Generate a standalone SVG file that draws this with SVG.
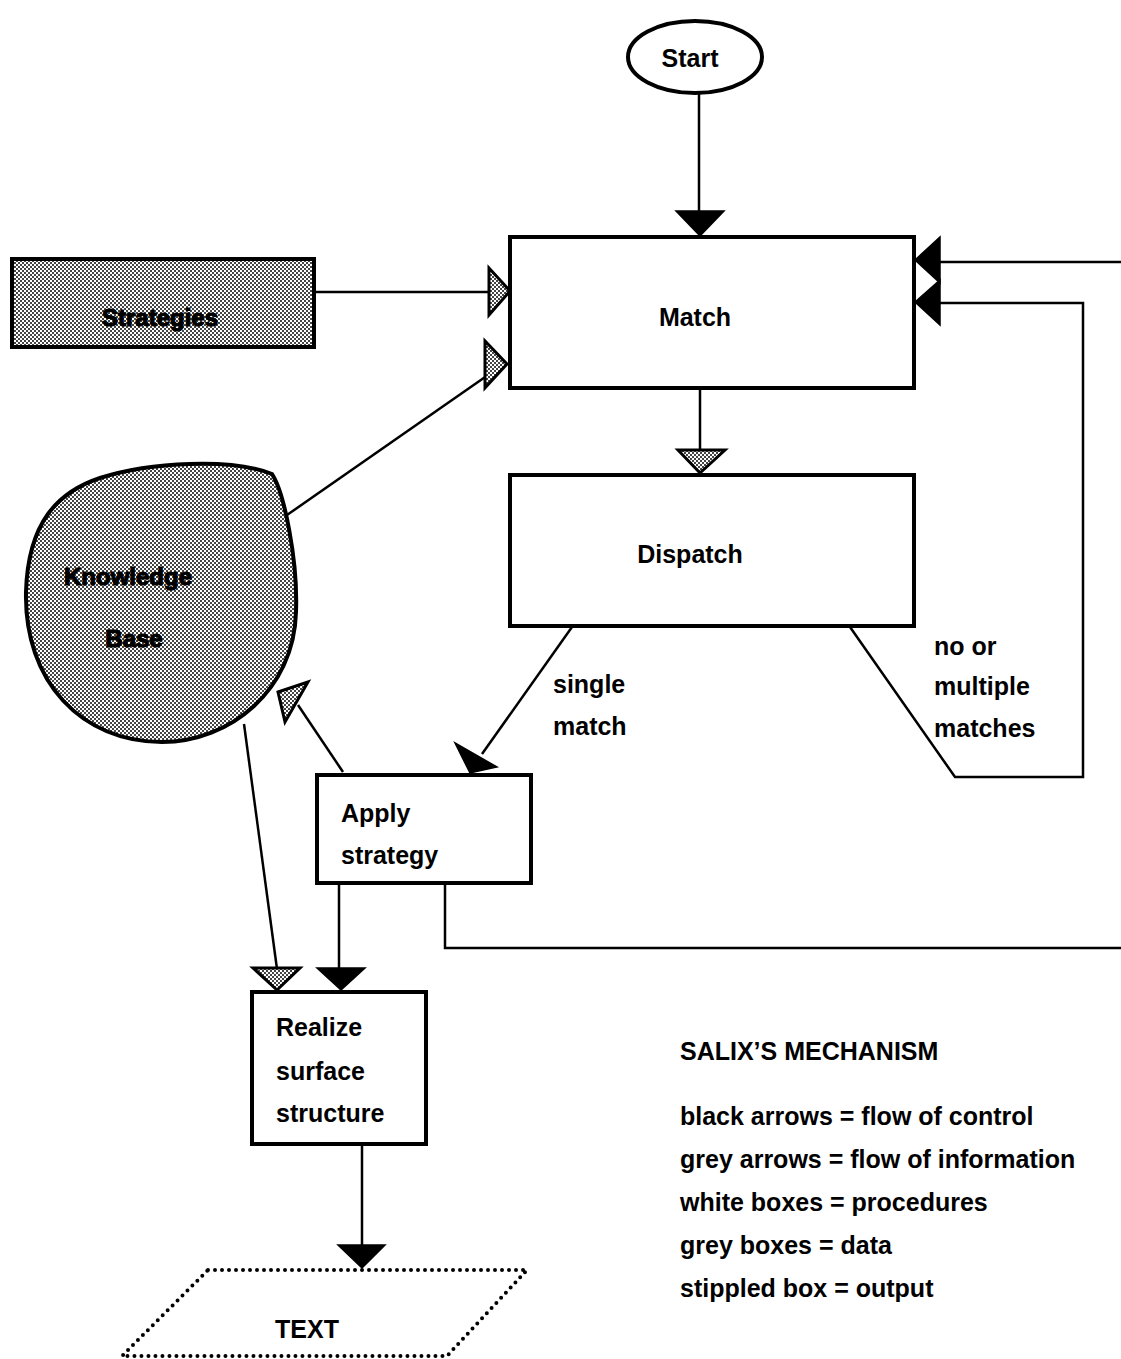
<svg xmlns="http://www.w3.org/2000/svg" width="1121" height="1359" viewBox="0 0 1121 1359">
<defs>
<pattern id="stip" width="4" height="4" patternUnits="userSpaceOnUse">
<rect width="4" height="4" fill="#fff"/>
<rect x="0" y="0" width="2" height="2" fill="#444"/>
<rect x="2" y="2" width="2" height="2" fill="#444"/>
</pattern>
</defs>
<style>
.box{fill:#fff;stroke:#000;stroke-width:4}
.data{fill:url(#stip);stroke:#000;stroke-width:4}
.ln{fill:none;stroke:#000;stroke-width:2.5}
.blk{fill:#000;stroke:#000;stroke-width:1.5;stroke-linejoin:miter}
.gry{fill:url(#stip);stroke:#000;stroke-width:3;stroke-linejoin:miter}
text{font-family:"Liberation Sans",Arial,Helvetica,sans-serif;font-weight:bold;font-size:25px;fill:#000}
.dt{font-size:24px;fill:#000;stroke:#000;stroke-width:1.2}
.out{fill:none;stroke:#000;stroke-width:4;stroke-dasharray:0 7;stroke-linecap:round}
</style>
<rect width="1121" height="1359" fill="#fff"/>

<g id="connectors">
<line class="ln" x1="699" y1="93" x2="699" y2="212"/>
<polygon class="blk" points="676,211 724,211 700,236"/>
<line class="ln" x1="315" y1="292" x2="490" y2="292"/>
<polygon class="gry" points="489,268 489,315 510,291"/>
<line class="ln" x1="287" y1="515" x2="488" y2="375"/>
<polygon class="gry" points="485,341 485,388 507,364"/>
<line class="ln" x1="700" y1="389" x2="700" y2="451"/>
<polygon class="gry" points="678,450 725,450 700,473"/>
<line class="ln" x1="572" y1="627" x2="482" y2="754"/>
<polygon class="blk" points="455,743 497,767 470,773"/>
<polyline class="ln" points="850,627 955,777 1083,777 1083,303 940,303"/>
<line class="ln" x1="940" y1="262" x2="1121" y2="262"/>
<polygon class="blk" points="915,260 940,237 940,283"/>
<polygon class="blk" points="915,302 940,280 940,325"/>
<line class="ln" x1="343" y1="772" x2="298" y2="705"/>
<polygon class="gry" points="278,692 308,682 285,722"/>
<line class="ln" x1="244" y1="724" x2="277" y2="969"/>
<polygon class="gry" points="253,968 300,968 277,990"/>
<line class="ln" x1="339" y1="884" x2="339" y2="968"/>
<polygon class="blk" points="317,968 365,968 341,990"/>
<polyline class="ln" points="445,884 445,948 1121,948"/>
<line class="ln" x1="362" y1="1145" x2="362" y2="1246"/>
<polygon class="blk" points="338,1245 385,1245 362,1268"/>
</g>

<g id="start">
<ellipse cx="695" cy="57" rx="67" ry="36" class="box" stroke-width="3"/>
<text x="690" y="67" text-anchor="middle" font-size="23">Start</text>
</g>

<g id="match">
<rect class="box" x="510" y="237" width="404" height="151"/>
<text x="695" y="326" text-anchor="middle">Match</text>
</g>

<g id="strategies">
<rect class="data" x="12" y="259" width="302" height="88"/>
<text class="dt" x="160" y="326" text-anchor="middle">Strategies</text>
</g>

<g id="knowledge-base">
<path class="data" d="M272,474 C284,492 298,560 296,612 C294,690 230,742 162,742 C82,742 24,682 26,592 C28,522 58,492 100,478 C150,462 232,458 272,474 Z"/>
<text class="dt" x="128" y="585" text-anchor="middle">Knowledge</text>
<text class="dt" x="134" y="647" text-anchor="middle">Base</text>
</g>

<g id="dispatch">
<rect class="box" x="510" y="475" width="404" height="151"/>
<text x="690" y="563" text-anchor="middle">Dispatch</text>
</g>

<g id="apply-strategy">
<rect class="box" x="317" y="775" width="214" height="108"/>
<text x="341" y="822">Apply</text>
<text x="341" y="864">strategy</text>
</g>

<g id="realize">
<rect class="box" x="252" y="992" width="174" height="152"/>
<text x="276" y="1036">Realize</text>
<text x="276" y="1080">surface</text>
<text x="276" y="1122">structure</text>
</g>

<g id="text-output">
<polygon class="out" points="208,1270 527,1270 447,1356 122,1356"/>
<text x="307" y="1338" text-anchor="middle">TEXT</text>
</g>

<g id="labels">
<text x="553" y="693">single</text>
<text x="553" y="735">match</text>
<text x="934" y="655">no or</text>
<text x="934" y="695">multiple</text>
<text x="934" y="737">matches</text>
</g>

<g id="legend">
<text x="680" y="1060">SALIX’S MECHANISM</text>
<text x="680" y="1125">black arrows = flow of control</text>
<text x="680" y="1168">grey arrows = flow of information</text>
<text x="680" y="1211">white boxes = procedures</text>
<text x="680" y="1254">grey boxes = data</text>
<text x="680" y="1297">stippled box = output</text>
</g>
</svg>
